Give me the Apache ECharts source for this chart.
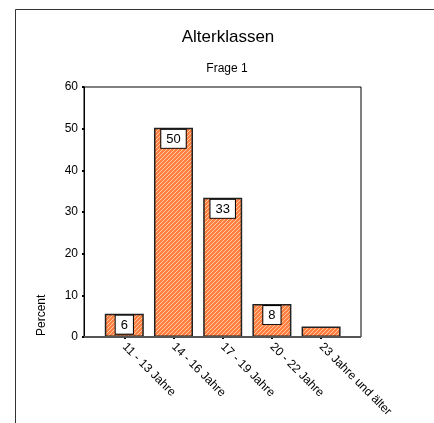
<!DOCTYPE html>
<html>
<head>
<meta charset="utf-8">
<script src="https://cdn.jsdelivr.net/npm/echarts@6/dist/echarts.min.js"></script>
<style>html,body{margin:0;padding:0;background:#fff;}#c{width:434px;height:423px;}</style>
</head>
<body>
<div id="c"></div>
<script>
var categories = ['11 - 13 Jahre', '14 - 16 Jahre', '17 - 19 Jahre', '20 - 22 Jahre', '23 Jahre und älter'];
var percentValues = [5.6, 50.2, 33.4, 7.9, 2.5];
var showValueLabel = [true, true, true, true, false];
var yTicks = [0, 10, 20, 30, 40, 50, 60];

function hatch() {
  var c = document.createElement('canvas');
  c.width = 4; c.height = 4;
  var g = c.getContext('2d');
  g.fillStyle = '#ff8040';
  g.fillRect(0, 0, 4, 4);
  g.strokeStyle = '#ffcfb0';
  g.lineWidth = 0.9;
  g.beginPath();
  g.moveTo(-1, 5); g.lineTo(5, -1);
  g.moveTo(-1, 1); g.lineTo(1, -1);
  g.moveTo(3, 5); g.lineTo(5, 3);
  g.stroke();
  return c;
}
var pattern = hatch();

var chart = echarts.init(document.getElementById('c'), null, {renderer: 'canvas'});
var font = '"Liberation Sans", Arial, sans-serif';
chart.setOption({
  animation: false,
  title: [
    {text: 'Alterklassen', left: 223, top: 24, textAlign: 'center',
     textStyle: {fontFamily: font, fontSize: 17, fontWeight: 'normal', color: '#000'}},
    {text: 'Frage 1', left: 222, top: 58, textAlign: 'center',
     textStyle: {fontFamily: font, fontSize: 12, fontWeight: 'normal', color: '#000'}}
  ],
  graphic: [
    {type: 'rect', shape: {x: 15.5, y: 9.5, width: 600, height: 600},
     style: {fill: 'none', stroke: '#333', lineWidth: 1}, silent: true},
    {type: 'text', x: 42, y: 336, rotation: Math.PI / 2,
     style: {text: 'Percent', font: '12px ' + font, fill: '#000', align: 'left', verticalAlign: 'middle'}}
  ],
  grid: [
    {left: 84, top: 87, width: 277, height: 250, show: true, borderColor: '#000', borderWidth: 1, backgroundColor: 'transparent'},
    {left: 99.7, top: 87, width: 246, height: 250}
  ],
  xAxis: [
    {type: 'value', gridIndex: 0, min: 0, max: 1, show: false},
    {type: 'category', gridIndex: 1, data: categories,
     axisLine: {show: false},
     axisTick: {show: true, alignWithLabel: true, length: 2, lineStyle: {color: '#000', width: 2}},
     axisLabel: {rotate: -45, margin: 8, fontFamily: font, fontSize: 12, color: '#000'}}
  ],
  yAxis: [
    {type: 'value', gridIndex: 0, min: 0, max: 60, interval: 10,
     axisLine: {show: true, lineStyle: {color: '#000', width: 1}},
     axisTick: {show: true, length: 2, lineStyle: {color: '#000', width: 2}},
     axisLabel: {margin: 6, fontFamily: font, fontSize: 12, color: '#000',
       formatter: function (v) { return yTicks.indexOf(v) >= 0 ? String(v) : ''; }},
     splitLine: {show: false}},
    {type: 'value', gridIndex: 1, min: 0, max: 60, interval: 10, show: false, splitLine: {show: false}}
  ],
  series: [
    {type: 'line', xAxisIndex: 0, yAxisIndex: 0, data: [[0, 0], [1, 0]], symbol: 'none',
     lineStyle: {color: '#555', width: 2}, silent: true, z: 5},
    {type: 'bar', xAxisIndex: 1, yAxisIndex: 1, barWidth: 39,
     itemStyle: {color: {image: pattern, repeat: 'repeat'}, borderColor: '#222', borderWidth: 1.5},
     label: {show: true, position: 'insideTop', distance: 2,
       formatter: function (p) { return String(Math.round(p.value)); },
       fontFamily: font, fontSize: 13, lineHeight: 15, color: '#000', backgroundColor: '#fff',
       borderColor: '#000', borderWidth: 1, padding: [2, 5, 1, 5]},
     data: percentValues.map(function (v, i) {
       return showValueLabel[i] ? v : {value: v, label: {show: false}};
     })}
  ]
});
</script>
</body>
</html>
